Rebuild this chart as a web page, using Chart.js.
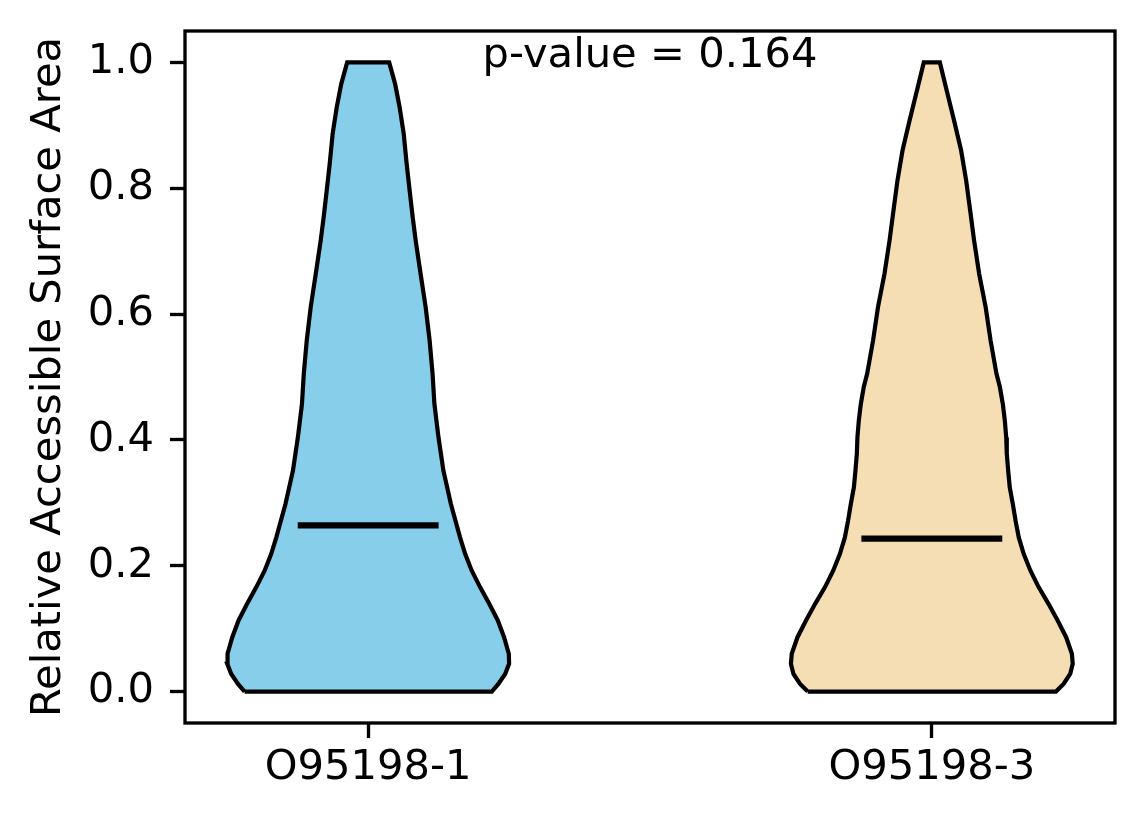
<!DOCTYPE html>
<html>
<head>
<meta charset="utf-8">
<title>Relative Accessible Surface Area</title>
<script src="https://cdn.jsdelivr.net/npm/chart.js@4.4.1/dist/chart.umd.min.js"></script>
<style>
    html, body { margin: 0; padding: 0; background: #fff; }
    #wrap { width: 1144px; height: 824px; }
</style>
</head>
<body>
<div id="wrap"><canvas id="violinChart"></canvas></div>
<script>
// data
const categories = ['O95198-1', 'O95198-3'];
const positions = [1, 2];
const means = [0.264, 0.243];
const pValue = 0.164;

// kde outline: value levels and density scaled so the widest point is 1
const levels1 = [0.000, 0.012, 0.028, 0.044, 0.060, 0.086, 0.113, 0.139, 0.166, 0.192, 0.219, 0.245,
                 0.298, 0.351, 0.404, 0.457, 0.505, 0.558, 0.611, 0.664, 0.717, 0.754, 0.797, 0.839,
                 0.887, 0.929, 0.966, 1.000];
const density1 = [0.877, 0.924, 0.972, 1.000, 0.998, 0.965, 0.920, 0.860, 0.794, 0.735, 0.688, 0.652,
                  0.587, 0.534, 0.499, 0.470, 0.457, 0.436, 0.408, 0.372, 0.337, 0.316, 0.294, 0.273,
                  0.252, 0.223, 0.191, 0.149];

const levels2 = [0.000, 0.012, 0.028, 0.044, 0.060, 0.086, 0.113, 0.139, 0.166, 0.192, 0.219, 0.245,
                 0.272, 0.298, 0.325, 0.351, 0.378, 0.404, 0.431, 0.457, 0.484, 0.505, 0.558, 0.611,
                 0.664, 0.717, 0.770, 0.812, 0.860, 0.903, 0.955, 1.000];
const density2 = [0.881, 0.935, 0.982, 1.000, 0.994, 0.954, 0.893, 0.829, 0.758, 0.700, 0.652, 0.617,
                  0.594, 0.575, 0.553, 0.542, 0.532, 0.528, 0.518, 0.504, 0.483, 0.459, 0.417, 0.382,
                  0.336, 0.300, 0.269, 0.244, 0.208, 0.163, 0.106, 0.057];

const yTicks = [0, 0.2, 0.4, 0.6, 0.8, 1.0];

const violinWidth = 0.5;
const fillColors = ['#87ceeb', '#f5deb3'];
const FONT = { family: '"DejaVu Sans", sans-serif', size: 41.67 };

function violinOutline(center, levels, density) {
    const half = violinWidth / 2;
    const left = levels.map((y, i) => ({ x: center - density[i] * half, y: y }));
    const right = levels.map((y, i) => ({ x: center + density[i] * half, y: y })).reverse();
    const pts = left.concat(right);
    pts.push(pts[0]);
    return pts;
}

function meanLine(center, mean) {
    const half = violinWidth / 4;
    return [{ x: center - half, y: mean }, { x: center + half, y: mean }];
}

const outlines = [
    violinOutline(positions[0], levels1, density1),
    violinOutline(positions[1], levels2, density2)
];

const datasets = [];
outlines.forEach((pts, i) => {
    datasets.push({
        label: categories[i],
        data: pts,
        showLine: true,
        fill: 'shape',
        backgroundColor: fillColors[i],
        borderColor: '#000',
        borderWidth: 4.2,
        borderJoinStyle: 'miter',
        pointRadius: 0,
        tension: 0,
        order: 1
    });
    datasets.push({
        label: categories[i] + ' mean',
        data: meanLine(positions[i], means[i]),
        showLine: true,
        fill: false,
        borderColor: '#000',
        borderWidth: 6.25,
        borderCapStyle: 'butt',
        pointRadius: 0,
        order: 0
    });
});

const framePlugin = {
    id: 'frame',
    afterDraw(chart) {
        const { ctx, chartArea: a } = chart;
        ctx.save();
        ctx.strokeStyle = '#000';
        ctx.lineWidth = 3.33;
        ctx.strokeRect(a.left, a.top, a.right - a.left, a.bottom - a.top);
        ctx.restore();
    }
};

const pValuePlugin = {
    id: 'pValue',
    afterDatasetsDraw(chart) {
        const { ctx, scales } = chart;
        ctx.save();
        ctx.font = FONT.size + 'px ' + FONT.family;
        ctx.fillStyle = '#000';
        ctx.textAlign = 'center';
        ctx.textBaseline = 'alphabetic';
        ctx.fillText('p-value = ' + pValue.toFixed(3),
            (scales.x.left + scales.x.right) / 2, scales.y.getPixelForValue(0.993));
        ctx.restore();
    }
};

function noEdgePadding(s) {
    s.paddingTop = 0;
    s.paddingBottom = 0;
    s.paddingLeft = 0;
    s.paddingRight = 0;
}

Chart.defaults.color = '#000';
Chart.defaults.font.family = FONT.family;

new Chart(document.getElementById('violinChart').getContext('2d'), {
    type: 'scatter',
    data: { datasets: datasets },
    options: {
        responsive: true,
        maintainAspectRatio: false,
        animation: false,
        layout: { padding: { top: 31, right: 29, bottom: 0, left: 0 } },
        plugins: {
            legend: { display: false },
            tooltip: { enabled: false }
        },
        scales: {
            x: {
                type: 'linear',
                min: 0.675,
                max: 2.325,
                afterFit: s => { s.height = 101; noEdgePadding(s); },
                afterBuildTicks: s => { s.ticks = positions.map(v => ({ value: v })); },
                border: { display: false },
                grid: {
                    drawOnChartArea: false,
                    drawTicks: true,
                    tickLength: 15,
                    tickWidth: 3.33,
                    tickColor: '#000'
                },
                ticks: {
                    font: FONT,
                    color: '#000',
                    padding: 5,
                    maxRotation: 0,
                    autoSkip: false,
                    callback: v => categories[positions.indexOf(v)]
                }
            },
            y: {
                type: 'linear',
                min: -0.05,
                max: 1.05,
                afterFit: s => { s.width = 185; noEdgePadding(s); },
                afterBuildTicks: s => { s.ticks = yTicks.map(v => ({ value: v })); },
                border: { display: false },
                grid: {
                    drawOnChartArea: false,
                    drawTicks: true,
                    tickLength: 15,
                    tickWidth: 3.33,
                    tickColor: '#000'
                },
                ticks: {
                    font: FONT,
                    color: '#000',
                    padding: 16,
                    callback: v => v.toFixed(1)
                },
                title: {
                    display: true,
                    text: 'Relative Accessible Surface Area',
                    font: FONT,
                    color: '#000',
                    padding: { top: 24, bottom: 0 }
                }
            }
        }
    },
    plugins: [framePlugin, pValuePlugin]
});
</script>
</body>
</html>
